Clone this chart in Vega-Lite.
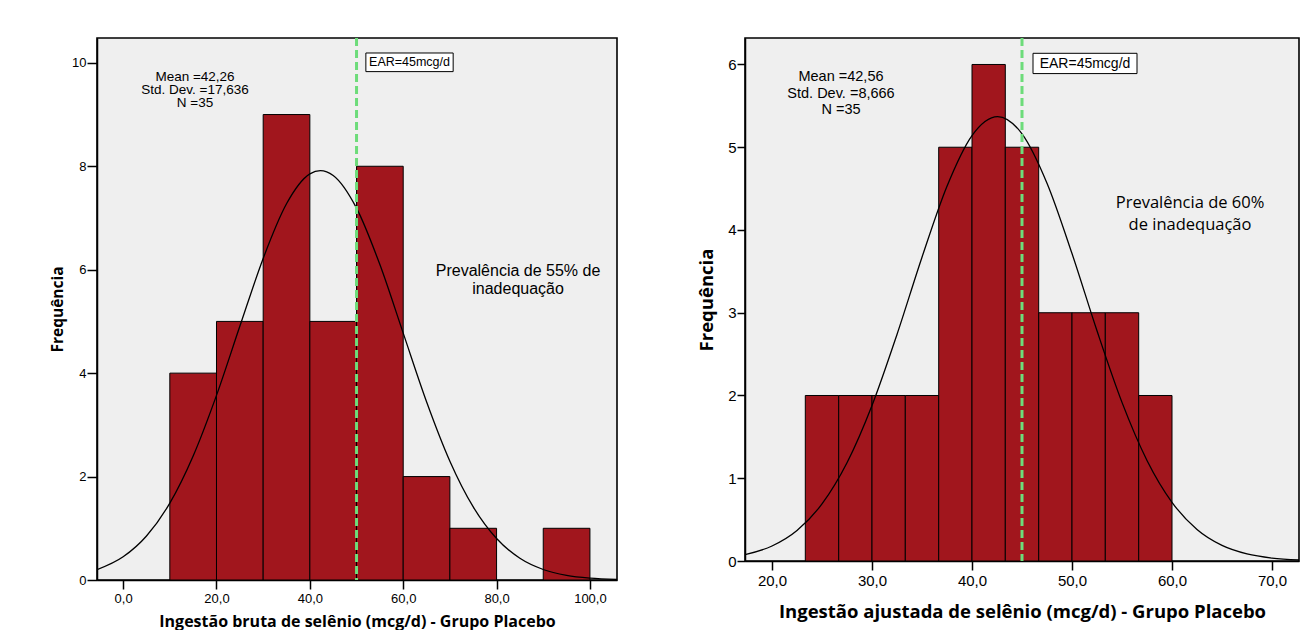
{
  "$schema": "https://vega.github.io/schema/vega-lite/v6.json",
  "background": "white",
  "padding": {"left": 49, "top": 35, "right": 8, "bottom": 0},
  "spacing": 78,
  "datasets": {
    "left_bins": [
      {"lo": 10, "hi": 20, "n": 4},
      {"lo": 20, "hi": 30, "n": 5},
      {"lo": 30, "hi": 40, "n": 9},
      {"lo": 40, "hi": 50, "n": 5},
      {"lo": 50, "hi": 60, "n": 8},
      {"lo": 60, "hi": 70, "n": 2},
      {"lo": 70, "hi": 80, "n": 1},
      {"lo": 90, "hi": 100, "n": 1}
    ],
    "right_bins": [
      {"lo": 23.33, "hi": 26.67, "n": 2},
      {"lo": 26.67, "hi": 30, "n": 2},
      {"lo": 30, "hi": 33.33, "n": 2},
      {"lo": 33.33, "hi": 36.67, "n": 2},
      {"lo": 36.67, "hi": 40, "n": 5},
      {"lo": 40, "hi": 43.33, "n": 6},
      {"lo": 43.33, "hi": 46.67, "n": 5},
      {"lo": 46.67, "hi": 50, "n": 3},
      {"lo": 50, "hi": 53.33, "n": 3},
      {"lo": 53.33, "hi": 56.67, "n": 3},
      {"lo": 56.67, "hi": 60, "n": 2}
    ],
    "left_curve": [
      {"x": -5.6, "y": 0.2},
      {"x": 0, "y": 0.448},
      {"x": 5, "y": 0.85},
      {"x": 10, "y": 1.486},
      {"x": 15, "y": 2.398},
      {"x": 20, "y": 3.57},
      {"x": 25, "y": 4.905},
      {"x": 30, "y": 6.218},
      {"x": 35, "y": 7.274},
      {"x": 40, "y": 7.852},
      {"x": 42.26, "y": 7.917},
      {"x": 45, "y": 7.822},
      {"x": 50, "y": 7.19},
      {"x": 55, "y": 6.099},
      {"x": 60, "y": 4.774},
      {"x": 65, "y": 3.448},
      {"x": 70, "y": 2.298},
      {"x": 75, "y": 1.413},
      {"x": 80, "y": 0.802},
      {"x": 85, "y": 0.42},
      {"x": 90, "y": 0.203},
      {"x": 95, "y": 0.0905},
      {"x": 100, "y": 0.0372},
      {"x": 105.8, "y": 0.012}
    ],
    "right_curve": [
      {"x": 17.3, "y": 0.0768},
      {"x": 20, "y": 0.1813},
      {"x": 22.5, "y": 0.3686},
      {"x": 25, "y": 0.6893},
      {"x": 27.5, "y": 1.1865},
      {"x": 30, "y": 1.8789},
      {"x": 32.5, "y": 2.7379},
      {"x": 35, "y": 3.671},
      {"x": 37.5, "y": 4.5291},
      {"x": 40, "y": 5.1415},
      {"x": 42.56, "y": 5.3708},
      {"x": 45, "y": 5.1621},
      {"x": 47.5, "y": 4.5653},
      {"x": 50, "y": 3.7153},
      {"x": 52.5, "y": 2.782},
      {"x": 55, "y": 1.9168},
      {"x": 57.5, "y": 1.2152},
      {"x": 60, "y": 0.7089},
      {"x": 62.5, "y": 0.3805},
      {"x": 65, "y": 0.188},
      {"x": 67.5, "y": 0.0854},
      {"x": 70, "y": 0.0357},
      {"x": 72.7, "y": 0.0127}
    ],
    "one": [{}]
  },
  "hconcat": [
    {
      "width": 520,
      "height": 542,
      "layer": [
        {
          "data": {"name": "left_bins"},
          "mark": {"type": "rect", "fill": "#a1161d", "stroke": "#000000", "strokeWidth": 1},
          "encoding": {
            "x": {
              "field": "lo", "type": "quantitative",
              "scale": {"domain": [-5.6, 105.8], "nice": false, "zero": false},
              "axis": {
                "title": "Ingestão bruta de selênio (mcg/d) - Grupo Placebo",
                "values": [0, 20, 40, 60, 80, 100],
                "labelExpr": "replace(format(datum.value, '.1f'), '.', ',')",
                "titleFontSize": 16,
                "titlePadding": 8,
                "tickSize": 9,
                "labelPadding": 3
              }
            },
            "x2": {"field": "hi"},
            "y": {
              "field": "n", "type": "quantitative",
              "scale": {"domain": [0, 10.48], "nice": false},
              "axis": {
                "title": "Frequência",
                "values": [0, 2, 4, 6, 8, 10],
                "format": "d",
                "titleFontSize": 15.5,
                "titlePadding": 6,
                "tickSize": 10,
                "labelPadding": 1
              }
            },
            "y2": {"datum": 0}
          }
        },
        {
          "data": {"name": "left_curve"},
          "mark": {"type": "line", "color": "#000000", "strokeWidth": 1.3, "interpolate": "monotone", "clip": true},
          "encoding": {
            "x": {"field": "x", "type": "quantitative"},
            "y": {"field": "y", "type": "quantitative"}
          }
        },
        {
          "data": {"name": "one"},
          "mark": {"type": "rule", "color": "#6ddc7a", "strokeWidth": 3, "strokeDash": [8, 4]},
          "encoding": {"x": {"datum": 50}}
        },
        {
          "data": {"name": "one"},
          "mark": {"type": "rect", "fill": "#ffffff", "stroke": "#000000", "strokeWidth": 1},
          "encoding": {
            "x": {"datum": 52.0}, "x2": {"datum": 70.7},
            "y": {"datum": 10.19}, "y2": {"datum": 9.83}
          }
        },
        {
          "data": {"name": "one"},
          "mark": {"type": "text", "text": "EAR=45mcg/d", "font": "Liberation Sans", "fontSize": 12.5, "color": "#000000", "align": "center", "baseline": "middle"},
          "encoding": {"x": {"datum": 61.35}, "y": {"datum": 10.01}}
        },
        {
          "data": {"name": "one"},
          "mark": {"type": "text", "text": ["Mean =42,26", "Std. Dev. =17,636", "N =35"], "font": "Liberation Sans", "fontSize": 13.5, "lineHeight": 13, "color": "#000000", "align": "center", "baseline": "top"},
          "encoding": {"x": {"datum": 15.4}, "y": {"datum": 9.87}}
        },
        {
          "data": {"name": "one"},
          "mark": {"type": "text", "text": ["Prevalência de 55% de", "inadequação"], "font": "Liberation Sans", "fontSize": 16, "lineHeight": 18, "color": "#000000", "align": "center", "baseline": "top"},
          "encoding": {"x": {"datum": 84.6}, "y": {"datum": 6.13}}
        }
      ]
    },
    {
      "width": 554,
      "height": 523,
      "layer": [
        {
          "data": {"name": "right_bins"},
          "mark": {"type": "rect", "fill": "#a1161d", "stroke": "#000000", "strokeWidth": 1},
          "encoding": {
            "x": {
              "field": "lo", "type": "quantitative",
              "scale": {"domain": [17.3, 72.7], "nice": false, "zero": false},
              "axis": {
                "title": "Ingestão ajustada de selênio (mcg/d) - Grupo Placebo",
                "values": [20, 30, 40, 50, 60, 70],
                "labelExpr": "replace(format(datum.value, '.1f'), '.', ',')",
                "labelFontSize": 15,
                "titleFontSize": 18.5,
                "titlePadding": 14,
                "tickSize": 9,
                "labelPadding": 3
              }
            },
            "x2": {"field": "hi"},
            "y": {
              "field": "n", "type": "quantitative",
              "scale": {"domain": [0, 6.32], "nice": false},
              "axis": {
                "title": "Frequência",
                "values": [0, 1, 2, 3, 4, 5, 6],
                "format": "d",
                "labelFontSize": 15,
                "titleFontSize": 18.5,
                "titlePadding": 11,
                "tickSize": 8,
                "labelPadding": 1
              }
            },
            "y2": {"datum": 0}
          }
        },
        {
          "data": {"name": "right_curve"},
          "mark": {"type": "line", "color": "#000000", "strokeWidth": 1.3, "interpolate": "monotone", "clip": true},
          "encoding": {
            "x": {"field": "x", "type": "quantitative"},
            "y": {"field": "y", "type": "quantitative"}
          }
        },
        {
          "data": {"name": "one"},
          "mark": {"type": "rule", "color": "#6ddc7a", "strokeWidth": 3, "strokeDash": [8, 4]},
          "encoding": {"x": {"datum": 45}}
        },
        {
          "data": {"name": "one"},
          "mark": {"type": "rect", "fill": "#ffffff", "stroke": "#000000", "strokeWidth": 1},
          "encoding": {
            "x": {"datum": 46.1}, "x2": {"datum": 56.5},
            "y": {"datum": 6.135}, "y2": {"datum": 5.89}
          }
        },
        {
          "data": {"name": "one"},
          "mark": {"type": "text", "text": "EAR=45mcg/d", "font": "Liberation Sans", "fontSize": 14, "color": "#000000", "align": "center", "baseline": "middle"},
          "encoding": {"x": {"datum": 51.3}, "y": {"datum": 6.01}}
        },
        {
          "data": {"name": "one"},
          "mark": {"type": "text", "text": ["Mean =42,56", "Std. Dev. =8,666", "N =35"], "font": "Liberation Sans", "fontSize": 14.5, "lineHeight": 16.5, "color": "#000000", "align": "center", "baseline": "top"},
          "encoding": {"x": {"datum": 26.9}, "y": {"datum": 5.93}}
        },
        {
          "data": {"name": "one"},
          "mark": {"type": "text", "text": ["Prevalência de 60%", "de inadequação"], "font": "Open Sans", "fontSize": 16.5, "lineHeight": 22, "color": "#000000", "align": "center", "baseline": "top"},
          "encoding": {"x": {"datum": 61.8}, "y": {"datum": 4.42}}
        }
      ]
    }
  ],
  "config": {
    "view": {"fill": "#efefef", "stroke": "#000000", "strokeWidth": 1.6},
    "axis": {
      "grid": false,
      "domainColor": "#000000",
      "domainWidth": 1.5,
      "tickColor": "#000000",
      "tickWidth": 1.5,
      "labelFont": "Liberation Sans",
      "labelFontSize": 13,
      "labelColor": "#000000",
      "titleFont": "Open Sans",
      "titleFontWeight": "bold",
      "titleColor": "#000000"
    }
  }
}
